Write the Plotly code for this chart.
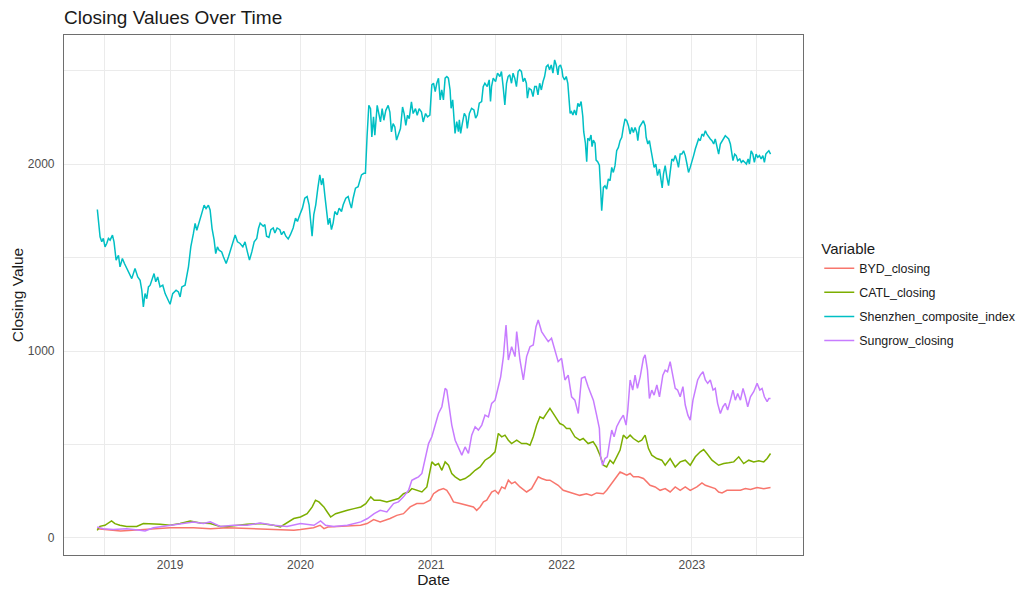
import pandas as pd
import plotly.graph_objects as go

# ---------------- data (decimal years, closing values) ----------------
shenzhen_t = [
    2018.442, 2018.463, 2018.476, 2018.488, 2018.501, 2018.514, 2018.527, 2018.540, 2018.558, 2018.570,
    2018.586, 2018.604, 2018.616, 2018.634, 2018.650, 2018.668, 2018.688, 2018.706, 2018.731, 2018.752,
    2018.770, 2018.783, 2018.795, 2018.808, 2018.821, 2018.834, 2018.847, 2018.862, 2018.877, 2018.890,
    2018.905, 2018.923, 2018.944, 2018.962, 2018.980, 2019.000, 2019.020, 2019.046, 2019.064, 2019.077,
    2019.090, 2019.115, 2019.141, 2019.159, 2019.179, 2019.192, 2019.205, 2019.225, 2019.243, 2019.261,
    2019.276, 2019.294, 2019.307, 2019.322, 2019.338, 2019.350, 2019.363, 2019.376, 2019.396, 2019.409,
    2019.430, 2019.448, 2019.465, 2019.481, 2019.499, 2019.517, 2019.537, 2019.558, 2019.575, 2019.593,
    2019.609, 2019.627, 2019.645, 2019.665, 2019.678, 2019.691, 2019.714, 2019.727, 2019.740, 2019.758,
    2019.773, 2019.791, 2019.804, 2019.821, 2019.842, 2019.855, 2019.872, 2019.888, 2019.906, 2019.923,
    2019.944, 2019.962, 2019.977, 2019.995, 2020.015, 2020.033, 2020.051, 2020.066, 2020.077, 2020.089,
    2020.102, 2020.117, 2020.133, 2020.148, 2020.161, 2020.173, 2020.186, 2020.199, 2020.212, 2020.224,
    2020.237, 2020.250, 2020.263, 2020.281, 2020.296, 2020.314, 2020.327, 2020.347, 2020.365, 2020.378,
    2020.390, 2020.403, 2020.421, 2020.441, 2020.454, 2020.467, 2020.485, 2020.497, 2020.510, 2020.523,
    2020.536, 2020.546, 2020.559, 2020.569, 2020.587, 2020.602, 2020.612, 2020.625, 2020.638, 2020.653,
    2020.671, 2020.684, 2020.696, 2020.709, 2020.722, 2020.735, 2020.747, 2020.765, 2020.781, 2020.793,
    2020.806, 2020.819, 2020.832, 2020.849, 2020.862, 2020.880, 2020.893, 2020.908, 2020.926, 2020.939,
    2020.957, 2020.972, 2020.990, 2021.005, 2021.018, 2021.031, 2021.043, 2021.056, 2021.069, 2021.081,
    2021.094, 2021.107, 2021.120, 2021.132, 2021.145, 2021.153, 2021.165, 2021.176, 2021.183, 2021.196,
    2021.209, 2021.216, 2021.226, 2021.239, 2021.254, 2021.267, 2021.277, 2021.293, 2021.310, 2021.328,
    2021.341, 2021.354, 2021.369, 2021.387, 2021.399, 2021.412, 2021.430, 2021.445, 2021.455, 2021.463,
    2021.476, 2021.494, 2021.509, 2021.527, 2021.539, 2021.552, 2021.565, 2021.578, 2021.590, 2021.603,
    2021.616, 2021.628, 2021.641, 2021.654, 2021.667, 2021.679, 2021.692, 2021.705, 2021.718, 2021.730,
    2021.738, 2021.751, 2021.768, 2021.781, 2021.794, 2021.807, 2021.819, 2021.832, 2021.845, 2021.858,
    2021.870, 2021.883, 2021.896, 2021.908, 2021.921, 2021.934, 2021.947, 2021.959, 2021.972, 2021.980,
    2021.992, 2022.003, 2022.010, 2022.023, 2022.036, 2022.048, 2022.056, 2022.066, 2022.076, 2022.087,
    2022.099, 2022.112, 2022.125, 2022.137, 2022.150, 2022.163, 2022.170, 2022.183, 2022.193, 2022.201,
    2022.214, 2022.226, 2022.234, 2022.244, 2022.257, 2022.265, 2022.277, 2022.290, 2022.300, 2022.308,
    2022.321, 2022.333, 2022.346, 2022.359, 2022.372, 2022.385, 2022.397, 2022.410, 2022.423, 2022.436,
    2022.449, 2022.462, 2022.474, 2022.487, 2022.500, 2022.513, 2022.526, 2022.538, 2022.551, 2022.564,
    2022.577, 2022.585, 2022.597, 2022.615, 2022.628, 2022.641, 2022.649, 2022.662, 2022.674, 2022.685,
    2022.700, 2022.710, 2022.723, 2022.736, 2022.751, 2022.764, 2022.772, 2022.782, 2022.795, 2022.808,
    2022.821, 2022.833, 2022.846, 2022.859, 2022.872, 2022.885, 2022.897, 2022.910, 2022.923, 2022.936,
    2022.949, 2022.962, 2022.974, 2022.987, 2023.000, 2023.013, 2023.026, 2023.038, 2023.051, 2023.064,
    2023.077, 2023.090, 2023.103, 2023.115, 2023.128, 2023.141, 2023.154, 2023.167, 2023.179, 2023.192,
    2023.205, 2023.218, 2023.231, 2023.244, 2023.256, 2023.269, 2023.282, 2023.295, 2023.308, 2023.315,
    2023.328, 2023.340, 2023.351, 2023.367, 2023.379, 2023.392, 2023.405, 2023.418, 2023.431, 2023.441,
    2023.454, 2023.467, 2023.479, 2023.492, 2023.505, 2023.518, 2023.531, 2023.544, 2023.556, 2023.567,
    2023.577, 2023.590, 2023.603,
]
shenzhen_v = [
    1757, 1611, 1584, 1602, 1557, 1575, 1602, 1593, 1620, 1584,
    1486, 1512, 1450, 1495, 1468, 1441, 1414, 1387, 1441, 1396,
    1378, 1325, 1236, 1307, 1280, 1343, 1352, 1387, 1414, 1370,
    1396, 1343, 1352, 1307, 1280, 1250, 1307, 1325, 1316, 1289,
    1343, 1352, 1450, 1557, 1629, 1682, 1646, 1700, 1736, 1780,
    1762, 1780, 1754, 1655, 1593, 1521, 1557, 1539, 1530, 1504,
    1468, 1504, 1539, 1575, 1620, 1584, 1575, 1557, 1584, 1530,
    1486, 1530, 1584, 1602, 1655, 1684, 1667, 1676, 1614, 1608,
    1649, 1658, 1631, 1658, 1649, 1622, 1640, 1614, 1599, 1622,
    1658, 1711, 1693, 1729, 1764, 1817, 1826, 1782, 1693, 1614,
    1729, 1782, 1871, 1942, 1888, 1924, 1835, 1764, 1676, 1711,
    1649, 1684, 1746, 1729, 1764, 1746, 1782, 1817, 1826, 1791,
    1764, 1817, 1871, 1879, 1906, 1942, 1950, 1950, 2154, 2314,
    2296, 2145, 2252, 2154, 2314, 2270, 2225, 2296, 2234, 2287,
    2314, 2278, 2172, 2216, 2198, 2128, 2154, 2190, 2305, 2270,
    2207, 2261, 2243, 2332, 2270, 2296, 2261, 2296, 2278, 2225,
    2270, 2252, 2261, 2423, 2432, 2387, 2432, 2459, 2343, 2396,
    2343, 2459, 2468, 2459, 2396, 2298, 2343, 2254, 2164, 2227,
    2173, 2236, 2164, 2218, 2271, 2254, 2191, 2271, 2298, 2289,
    2245, 2262, 2325, 2334, 2414, 2432, 2414, 2450, 2334, 2414,
    2459, 2441, 2486, 2468, 2495, 2414, 2316, 2432, 2468, 2477,
    2432, 2486, 2459, 2414, 2495, 2504, 2495, 2441, 2459, 2432,
    2352, 2405, 2396, 2361, 2414, 2414, 2370, 2432, 2396, 2441,
    2468, 2521, 2530, 2504, 2530, 2486, 2557, 2530, 2477, 2521,
    2530, 2504, 2468, 2450, 2468, 2432, 2370, 2271, 2280, 2262,
    2289, 2262, 2325, 2307, 2334, 2254, 2173, 2111, 2012, 2137,
    2128, 2155, 2093, 2128, 2111, 2021, 2012, 1994, 1861, 1750,
    1875, 1884, 1866, 1920, 1911, 1982, 1955, 1991, 2071, 2089,
    2125, 2143, 2196, 2241, 2232, 2205, 2160, 2196, 2169, 2196,
    2169, 2125, 2196, 2214, 2232, 2205, 2143, 2107, 2125, 2080,
    2018, 1982, 2000, 1938, 1973, 1911, 1872, 1947, 1991, 1929,
    1884, 1955, 2027, 2018, 2045, 2018, 1982, 2053, 2053, 2071,
    2045, 2000, 1955, 1982, 2009, 2045, 2080, 2107, 2134, 2125,
    2160, 2151, 2178, 2160, 2143, 2134, 2125, 2107, 2134, 2089,
    2053, 2107, 2125, 2143, 2151, 2143, 2134, 2107, 2053, 2018,
    2053, 2045, 2018, 2027, 2009, 2018, 2009, 2000, 2027, 2000,
    2071, 2053, 2009, 2053, 2036, 2045, 2027, 2045, 2009, 2053,
    2062, 2071, 2053,
]

byd_t = [
    2018.441, 2018.540, 2018.620, 2018.800, 2019.000, 2019.180, 2019.310, 2019.440, 2019.690, 2019.820,
    2019.950, 2020.000, 2020.100, 2020.150, 2020.180, 2020.210, 2020.330, 2020.460, 2020.510, 2020.560,
    2020.610, 2020.686, 2020.737, 2020.788, 2020.839, 2020.890, 2020.941, 2020.992, 2021.018, 2021.056,
    2021.094, 2021.120, 2021.145, 2021.171, 2021.222, 2021.273, 2021.324, 2021.349, 2021.375, 2021.401,
    2021.426, 2021.464, 2021.490, 2021.515, 2021.541, 2021.566, 2021.592, 2021.617, 2021.643, 2021.681,
    2021.732, 2021.770, 2021.796, 2021.821, 2021.847, 2021.885, 2021.911, 2021.936, 2021.974, 2022.013,
    2022.051, 2022.089, 2022.140, 2022.191, 2022.230, 2022.269, 2022.321, 2022.346, 2022.385, 2022.423,
    2022.449, 2022.474, 2022.500, 2022.526, 2022.551, 2022.590, 2022.628, 2022.654, 2022.679, 2022.718,
    2022.756, 2022.795, 2022.833, 2022.872, 2022.910, 2022.949, 2022.987, 2023.038, 2023.077, 2023.103,
    2023.141, 2023.179, 2023.205, 2023.231, 2023.269, 2023.321, 2023.372, 2023.410, 2023.449, 2023.500,
    2023.551, 2023.603,
]
byd_v = [
    50, 45, 37, 45, 55, 55, 50, 55, 50, 45,
    41, 45, 55, 68, 50, 59, 62, 68, 77, 98,
    86, 104, 121, 130, 166, 184, 184, 202, 237, 255,
    264, 255, 228, 193, 184, 175, 166, 148, 166, 193,
    202, 246, 255, 237, 273, 264, 309, 291, 300, 273,
    246, 264, 300, 327, 318, 309, 309, 300, 282, 255,
    246, 237, 228, 237, 228, 241, 237, 255, 291, 327,
    353, 345, 336, 345, 327, 327, 318, 300, 282, 273,
    255, 264, 246, 273, 255, 273, 255, 273, 295, 282,
    273, 264, 246, 241, 255, 255, 255, 264, 259, 270,
    264, 270,
]

catl_t = [
    2018.441, 2018.462, 2018.500, 2018.551, 2018.577, 2018.615, 2018.667, 2018.744, 2018.795, 2018.872,
    2018.923, 2019.000, 2019.077, 2019.154, 2019.231, 2019.308, 2019.385, 2019.436, 2019.513, 2019.590,
    2019.692, 2019.795, 2019.846, 2019.897, 2019.949, 2020.000, 2020.051, 2020.090, 2020.115, 2020.141,
    2020.179, 2020.205, 2020.231, 2020.269, 2020.308, 2020.359, 2020.410, 2020.462, 2020.500, 2020.538,
    2020.564, 2020.610, 2020.661, 2020.712, 2020.750, 2020.788, 2020.827, 2020.852, 2020.890, 2020.929,
    2020.967, 2021.005, 2021.031, 2021.056, 2021.082, 2021.107, 2021.133, 2021.158, 2021.184, 2021.222,
    2021.260, 2021.298, 2021.337, 2021.375, 2021.413, 2021.452, 2021.490, 2021.515, 2021.541, 2021.566,
    2021.592, 2021.617, 2021.656, 2021.694, 2021.732, 2021.758, 2021.783, 2021.809, 2021.834, 2021.860,
    2021.885, 2021.911, 2021.936, 2021.962, 2021.987, 2022.013, 2022.038, 2022.064, 2022.102, 2022.140,
    2022.166, 2022.204, 2022.242, 2022.268, 2022.295, 2022.321, 2022.346, 2022.372, 2022.397, 2022.423,
    2022.449, 2022.474, 2022.500, 2022.526, 2022.551, 2022.590, 2022.615, 2022.641, 2022.667, 2022.692,
    2022.731, 2022.769, 2022.795, 2022.833, 2022.872, 2022.910, 2022.949, 2022.987, 2023.026, 2023.064,
    2023.090, 2023.115, 2023.154, 2023.205, 2023.244, 2023.282, 2023.321, 2023.359, 2023.397, 2023.436,
    2023.474, 2023.513, 2023.551, 2023.577, 2023.603,
]
catl_v = [
    41, 62, 68, 91, 77, 68, 62, 62, 77, 77,
    73, 68, 77, 91, 80, 77, 62, 62, 68, 73,
    77, 68, 59, 80, 104, 112, 130, 166, 202, 193,
    166, 139, 112, 130, 139, 148, 157, 166, 184, 220,
    202, 202, 193, 202, 211, 237, 246, 264, 255, 246,
    273, 407, 389, 398, 362, 407, 389, 345, 327, 309,
    318, 336, 362, 380, 416, 434, 461, 559, 541, 550,
    523, 505, 523, 505, 505, 496, 541, 604, 648, 639,
    666, 693, 666, 639, 612, 604, 586, 586, 541, 523,
    532, 505, 515, 487, 443, 389, 380, 416, 398, 434,
    470, 550, 532, 550, 532, 514, 523, 550, 478, 443,
    425, 416, 389, 425, 380, 407, 416, 389, 434, 461,
    473, 452, 416, 389, 398, 402, 407, 434, 398, 416,
    407, 413, 407, 425, 452,
]

sungrow_t = [
    2018.441, 2018.487, 2018.564, 2018.667, 2018.769, 2018.808, 2018.872, 2018.949, 2019.026, 2019.103,
    2019.179, 2019.256, 2019.308, 2019.385, 2019.487, 2019.590, 2019.692, 2019.795, 2019.897, 2020.000,
    2020.103, 2020.154, 2020.192, 2020.256, 2020.359, 2020.462, 2020.513, 2020.564, 2020.610, 2020.661,
    2020.712, 2020.750, 2020.788, 2020.827, 2020.852, 2020.878, 2020.903, 2020.929, 2020.954, 2020.980,
    2021.005, 2021.031, 2021.056, 2021.082, 2021.107, 2021.120, 2021.145, 2021.158, 2021.184, 2021.209,
    2021.235, 2021.260, 2021.286, 2021.311, 2021.337, 2021.362, 2021.388, 2021.413, 2021.439, 2021.464,
    2021.490, 2021.515, 2021.533, 2021.554, 2021.574, 2021.592, 2021.617, 2021.643, 2021.656, 2021.681,
    2021.707, 2021.732, 2021.758, 2021.783, 2021.804, 2021.821, 2021.847, 2021.872, 2021.898, 2021.923,
    2021.949, 2021.974, 2022.000, 2022.026, 2022.051, 2022.077, 2022.102, 2022.128, 2022.153, 2022.179,
    2022.204, 2022.244, 2022.269, 2022.290, 2022.300, 2022.315, 2022.333, 2022.351, 2022.367, 2022.385,
    2022.403, 2022.423, 2022.449, 2022.474, 2022.495, 2022.508, 2022.526, 2022.546, 2022.564, 2022.582,
    2022.603, 2022.615, 2022.628, 2022.641, 2022.659, 2022.674, 2022.692, 2022.710, 2022.731, 2022.751,
    2022.777, 2022.795, 2022.813, 2022.833, 2022.854, 2022.872, 2022.890, 2022.910, 2022.931, 2022.949,
    2022.969, 2022.987, 2023.008, 2023.026, 2023.044, 2023.064, 2023.085, 2023.103, 2023.121, 2023.141,
    2023.162, 2023.179, 2023.197, 2023.218, 2023.238, 2023.256, 2023.274, 2023.295, 2023.315, 2023.333,
    2023.351, 2023.372, 2023.392, 2023.410, 2023.428, 2023.449, 2023.474, 2023.500, 2023.521, 2023.538,
    2023.556, 2023.577, 2023.590, 2023.603,
]
sungrow_v = [
    59, 50, 45, 50, 41, 37, 55, 62, 73, 80,
    86, 77, 86, 62, 68, 68, 80, 68, 62, 77,
    68, 91, 68, 62, 68, 86, 104, 130, 148, 139,
    184, 193, 220, 255, 309, 318, 327, 345, 416, 505,
    541, 604, 666, 702, 800, 791, 684, 604, 523, 487,
    443, 487, 452, 550, 595, 577, 604, 657, 648, 720,
    737, 809, 862, 970, 1139, 952, 1023, 970, 1104, 952,
    845, 970, 1023, 1032, 1130, 1166, 1104, 1077, 1050, 1068,
    1005, 943, 961, 845, 871, 755, 737, 666, 854, 862,
    809, 737, 657, 586, 434, 389, 425, 434, 505, 577,
    541, 595, 630, 657, 604, 684, 845, 791, 871, 800,
    862, 907, 961, 979, 898, 746, 791, 764, 818, 755,
    871, 898, 889, 943, 862, 800, 791, 755, 809, 711,
    657, 630, 737, 800, 845, 871, 889, 845, 827, 845,
    791, 800, 720, 666, 702, 720, 684, 737, 791, 737,
    773, 737, 800, 755, 702, 755, 782, 827, 791, 800,
    755, 729, 746, 746,
]

series_names = ["BYD_closing", "CATL_closing", "Shenzhen_composite_index", "Sungrow_closing"]
series_colors = ["#F8766D", "#7CAE00", "#00BFC4", "#C77CFF"]
series_t = [byd_t, catl_t, shenzhen_t, sungrow_t]
series_v = [byd_v, catl_v, shenzhen_v, sungrow_v]


def to_dates(years):
    out = []
    for f in years:
        y = int(f)
        start = pd.Timestamp(year=y, month=1, day=1)
        ndays = (pd.Timestamp(year=y + 1, month=1, day=1) - start).days
        out.append(start + pd.Timedelta(days=(f - y) * ndays))
    return out


FONT = "Liberation Sans, Arial, Helvetica, sans-serif"

fig = go.Figure()
for name, color, t, v in zip(series_names, series_colors, series_t, series_v):
    fig.add_trace(go.Scatter(
        x=to_dates(t), y=v, mode="lines", name=name, legendgroup=name,
        line=dict(color=color, width=1.5),
    ))

fig.update_layout(
    width=1020, height=592,
    margin=dict(l=64, r=217, t=35, b=37, autoexpand=False),
    paper_bgcolor="white", plot_bgcolor="white",
    font=dict(family=FONT, size=12, color="#4d4d4d"),
    title=dict(text="Closing Values Over Time", x=0, xref="paper", xanchor="left",
               y=1 - 17 / 592, yref="container", yanchor="middle",
               font=dict(size=19, color="#1a1a1a", family=FONT)),
    showlegend=True,
    legend=dict(x=1.022, xanchor="left", y=0.617, yanchor="top",
                title=dict(text="Variable", font=dict(size=15, color="#1a1a1a")),
                font=dict(size=12.4, color="#1a1a1a"), tracegroupgap=5,
                bgcolor="rgba(0,0,0,0)"),
    xaxis=dict(
        type="date", range=["2018-03-10", "2023-11-08"], automargin=False,
        tick0="2019-01-01", dtick="M12", tickformat="%Y",
        showgrid=True, gridcolor="#ebebeb", gridwidth=1.2,
        minor=dict(dtick="M6", tick0="2018-01-01", showgrid=True, gridcolor="#ebebeb", gridwidth=1),
        showline=True, mirror=True, linecolor="#6e6e6e", linewidth=1.2,
        ticks="", ticklabelstandoff=-2, zeroline=False,
        tickfont=dict(size=12, color="#4d4d4d"),
        title=dict(text="Date", font=dict(size=15.5, color="#1a1a1a"), standoff=0),
    ),
    yaxis=dict(
        range=[-91, 2690], tick0=0, dtick=1000, automargin=False,
        showgrid=True, gridcolor="#ebebeb", gridwidth=1.2,
        minor=dict(dtick=500, tick0=0, showgrid=True, gridcolor="#ebebeb", gridwidth=1),
        showline=True, mirror=True, linecolor="#6e6e6e", linewidth=1.2,
        ticks="", ticklabelstandoff=6, zeroline=False,
        tickfont=dict(size=12, color="#4d4d4d"),
        title=dict(text="Closing Value", font=dict(size=15.5, color="#1a1a1a"), standoff=0),
    ),
)

fig.write_html(
    "out.html",
    post_script="document.body.style.margin='0';",
    config={"displayModeBar": False},
)
